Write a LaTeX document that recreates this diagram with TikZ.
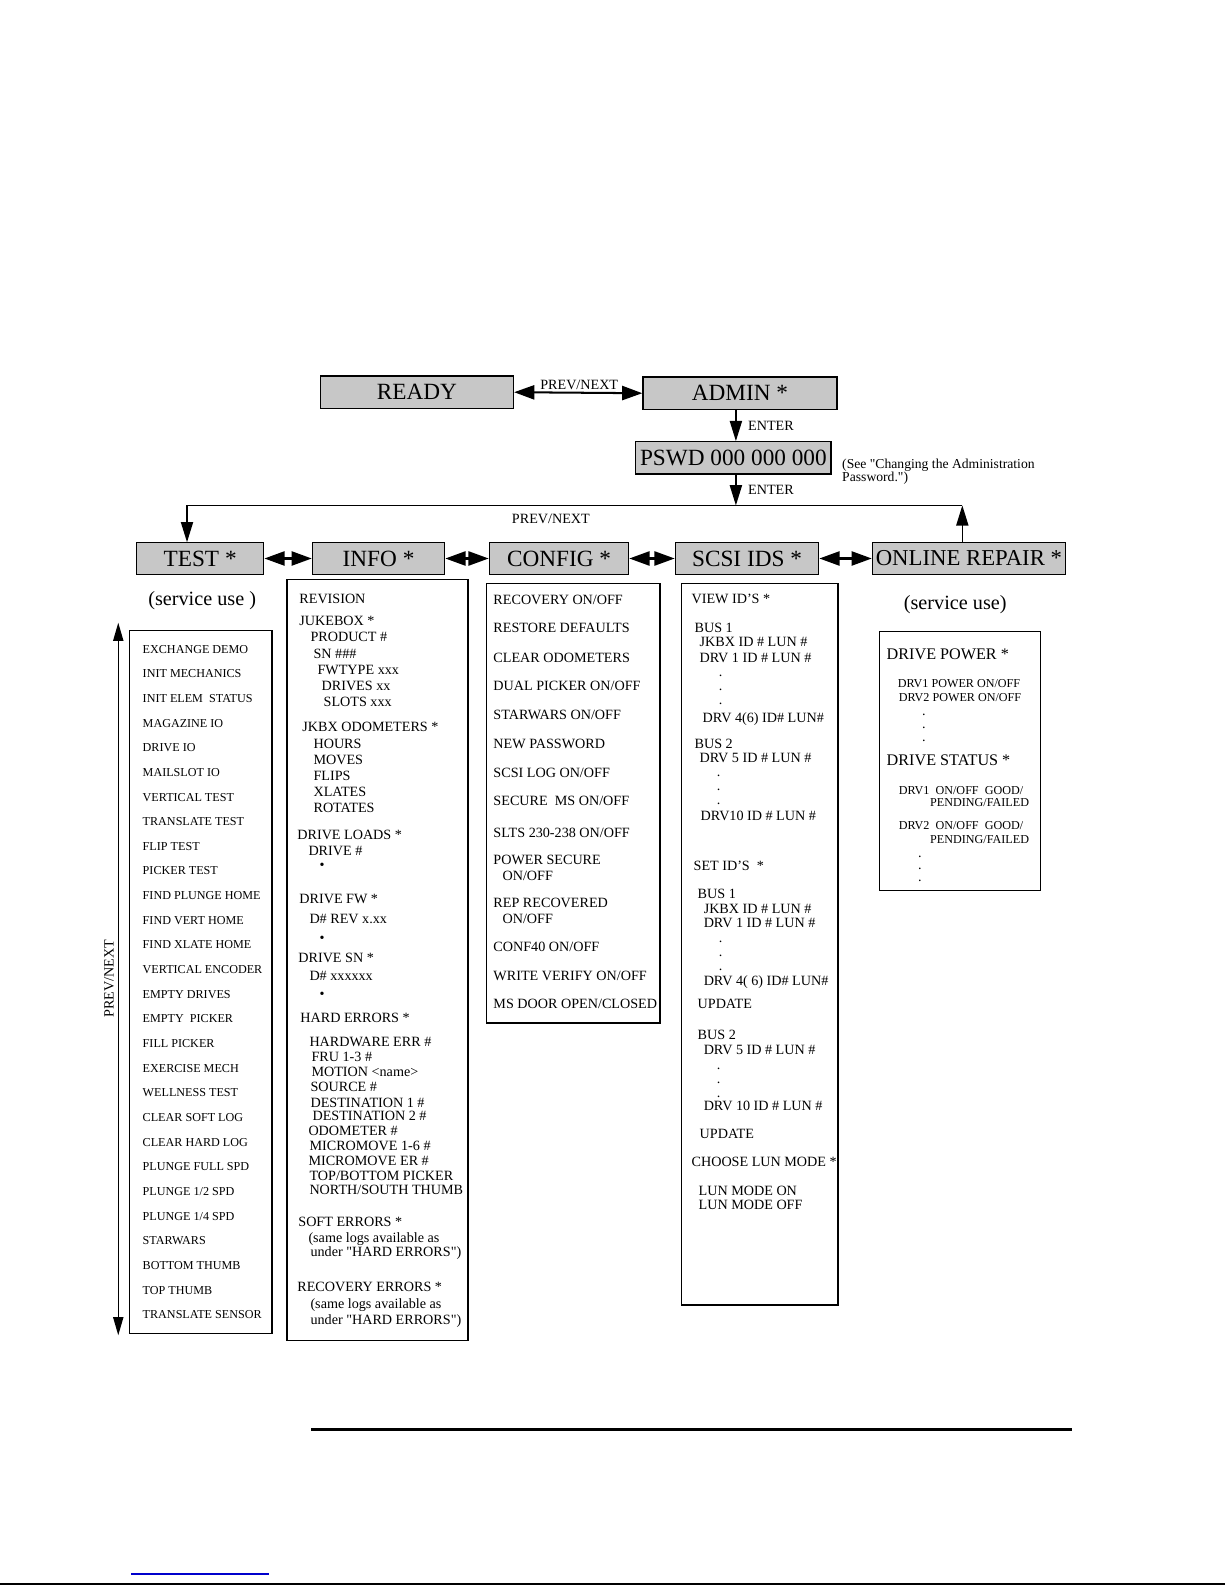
\documentclass[tikz,border=0pt]{standalone}
\usepackage{fontspec}
\setmainfont{Liberation Serif}[Ligatures=TeXOff]
\usetikzlibrary{arrows.meta}
\newcommand\fs[1]{\fontsize{#1}{#1}\selectfont}
\newcount\itmc
\newcommand\itm[4][]{\global\advance\itmc by 1\relax
  \node[tx,#1] (t\the\itmc) at (#2,#3) {#4};}
\begin{document}
\begin{tikzpicture}[x=1pt,y=-1pt,
  hdr/.style={draw, line width=1.2pt, fill=black!22, inner sep=0pt, font=\fs{23}},
  lbox/.style={draw, line width=1.3pt, inner sep=0pt},
  tx/.style={anchor=base west, inner sep=0pt, font=\fs{14}, yshift=-5pt},
  txs/.style={anchor=base west, inner sep=0pt, font=\fs{12}, yshift=-4pt},
  txb/.style={font=\fs{16}, yshift=-0.5pt},
  dotx/.style={yshift=3pt},
  lbl/.style={inner sep=0pt, font=\fs{14}},
  arr/.style={line width=1.5pt, -{Triangle[length=20pt,width=12pt]}},
  darr/.style={line width=2pt, {Triangle[length=20pt,width=14pt]}-{Triangle[length=20pt,width=14pt]}},
  vdarr/.style={line width=1.5pt, {Triangle[length=18pt,width=10pt]}-{Triangle[length=18pt,width=10pt]}},
  conn/.style={line width=1.3pt}]
\useasboundingbox (0,0) rectangle (1212,1568);

% header boxes
\node[hdr, minimum width=191pt, minimum height=32pt] (ready) at (412.5,388) {READY};
\node[hdr, minimum width=192pt, minimum height=32pt] (admin) at (732,389) {ADMIN *};
\node[hdr, minimum width=193pt, minimum height=32pt] (pswd) at (725.5,453) {PSWD 000 000 000};
\node[hdr, minimum width=126pt, minimum height=31pt] (test) at (198,552.5) {TEST *};
\node[hdr, minimum width=131pt, minimum height=31pt] (info) at (374.5,552.5) {INFO *};
\node[hdr, minimum width=138pt, minimum height=31pt] (config) at (553,552.5) {CONFIG *};
\node[hdr, minimum width=142pt, minimum height=31pt] (scsi) at (739,552.5) {SCSI IDS *};
\node[hdr, minimum width=191pt, minimum height=31pt, font=\fs{22.5}] (online) at (958.5,552.5) {ONLINE REPAIR *};

% top connectors
\draw[darr] (ready.east) -- (admin.west);
\node[lbl] (pn1) at (573,381) {PREV/NEXT};
\draw[arr] ([xshift=-4pt]admin.south) -- ([xshift=-4pt]admin.south |- pswd.north);
\node[lbl, anchor=west] (en1) at (740,421) {ENTER};
\coordinate (j) at (728,500);
\draw[arr] (pswd.south -| j) -- (j);
\node[lbl, anchor=west] (en2) at (740,485) {ENTER};
\node[lbl, anchor=west, font=\fs{13.5}] (note1) at (833,460) {(See "Changing the Administration};
\node[lbl, anchor=west, font=\fs{13.5}] (note2) at (833,473) {Password.")};
\coordinate (cl) at (185,500);
\coordinate (cr) at (952,500);
\draw[conn] (cr) -- (cl);
\draw[arr] (cl) -- (cl |- test.north);
\draw[arr] (online.north -| cr) -- (cr);
\node[lbl] (pn2) at (545,513) {PREV/NEXT};

% header double arrows
\draw[darr] (test.east) -- (info.west);
\draw[darr] (info.east) -- (config.west);
\draw[darr] (config.east) -- (scsi.west);
\draw[darr] (scsi.east) -- (online.west);

% service use
\node[inner sep=0pt, font=\fs{20}] (svc1) at (200,594) {(service use )};
\node[inner sep=0pt, font=\fs{20}] (svc2) at (945,598) {(service use)};

% list boxes
\node[lbox, minimum width=141pt, minimum height=695pt] (testbox) at (198.5,971.5) {};
\node[lbox, minimum width=179pt, minimum height=753pt] (infobox) at (373.5,949.5) {};
\node[lbox, minimum width=172pt, minimum height=435pt] (configbox) at (567,794.5) {};
\node[lbox, minimum width=155pt, minimum height=714pt] (scsibox) at (751.5,934) {};
\node[lbox, minimum width=159pt, minimum height=256pt] (onlinebox) at (949.5,753) {};

% TEST list
\foreach \t [count=\i from 0] in {{EXCHANGE DEMO},{INIT MECHANICS},{INIT ELEM\ \ STATUS},{MAGAZINE IO},{DRIVE IO},{MAILSLOT IO},{VERTICAL TEST},{TRANSLATE TEST},{FLIP TEST},{PICKER TEST},{FIND PLUNGE HOME},{FIND VERT HOME},{FIND XLATE HOME},{VERTICAL ENCODER},{EMPTY DRIVES},{EMPTY\ \ PICKER},{FILL PICKER},{EXERCISE MECH},{WELLNESS TEST},{CLEAR SOFT LOG},{CLEAR HARD LOG},{PLUNGE FULL SPD},{PLUNGE 1/2 SPD},{PLUNGE 1/4 SPD},{STARWARS},{BOTTOM THUMB},{TOP THUMB},{TRANSLATE SENSOR}}
  \node[txs] (test\i) at (141,{642+24.4*\i}) {\t};
\coordinate (vt) at (117,616);
\coordinate (vb) at (117,1321);
\draw[vdarr] (vt) -- (vb);
\node[lbl, rotate=90] (pn3) at (108,968) {PREV/NEXT};

% INFO list
\itm{296}{592}{REVISION}
\itm{296}{614}{JUKEBOX *}
\itm{307}{630}{PRODUCT \#}
\itm{310}{646}{SN \#\#\#}
\itm{314}{662}{FWTYPE xxx}
\itm{318}{678}{DRIVES xx}
\itm{320}{694}{SLOTS xxx}
\itm{299}{719}{JKBX ODOMETERS *}
\itm{310}{735}{HOURS}
\itm{310}{751}{MOVES}
\itm{310}{767}{FLIPS}
\itm{310}{783}{XLATES}
\itm{310}{799}{ROTATES}
\itm{294}{825}{DRIVE LOADS *}
\itm{305}{841}{DRIVE \#}
\itm[yshift=2pt]{316}{857}{•}
\itm{296}{889}{DRIVE FW *}
\itm{306}{909}{D\# REV x.xx}
\itm[yshift=2pt]{316}{929}{•}
\itm{295}{947}{DRIVE SN *}
\itm{306}{965}{D\# xxxxxx}
\itm[yshift=2pt]{316}{985}{•}
\itm{297}{1007}{HARD ERRORS *}
\itm{306}{1030}{HARDWARE ERR \#}
\itm{308}{1045}{FRU 1-3 \#}
\itm{308}{1060}{MOTION <name>}
\itm{307}{1075}{SOURCE \#}
\itm{307}{1091}{DESTINATION 1 \#}
\itm{309}{1103}{DESTINATION 2 \#}
\itm{305}{1118}{ODOMETER \#}
\itm{306}{1133}{MICROMOVE 1-6 \#}
\itm{305}{1148}{MICROMOVE ER \#}
\itm{306}{1163}{TOP/BOTTOM PICKER}
\itm{306}{1177}{NORTH/SOUTH THUMB}
\itm{295}{1208}{SOFT ERRORS *}
\itm{305}{1224}{(same logs available as}
\itm{307}{1238}{under "HARD ERRORS")}
\itm{294}{1273}{RECOVERY ERRORS *}
\itm{307}{1289}{(same logs available as}
\itm{307}{1305}{under "HARD ERRORS")}

% CONFIG list
\itm{488}{593}{RECOVERY ON/OFF}
\itm{488}{621}{RESTORE DEFAULTS}
\itm{488}{650}{CLEAR ODOMETERS}
\itm{488}{678}{DUAL PICKER ON/OFF}
\itm{488}{707}{STARWARS ON/OFF}
\itm{488}{735}{NEW PASSWORD}
\itm{488}{764}{SCSI LOG ON/OFF}
\itm{488}{792}{SECURE\ \ MS ON/OFF}
\itm{488}{824}{SLTS 230-238 ON/OFF}
\itm{488}{850}{POWER SECURE}
\itm{497}{866}{ON/OFF}
\itm{488}{893}{REP RECOVERED}
\itm{497}{909}{ON/OFF}
\itm{488}{936}{CONF40 ON/OFF}
\itm{488}{965}{WRITE VERIFY ON/OFF}
\itm{488}{993}{MS DOOR OPEN/CLOSED}

% SCSI list
\itm{684}{592}{VIEW ID’S *}
\itm{687}{621}{BUS 1}
\itm{692}{635}{JKBX ID \# LUN \#}
\itm{692}{650}{DRV 1 ID \# LUN \#}
\itm[dotx]{711}{667}{.}
\itm[dotx]{711}{681}{.}
\itm[dotx]{711}{695}{.}
\itm{695}{710}{DRV 4(6) ID\# LUN\#}
\itm{687}{735}{BUS 2}
\itm{692}{749}{DRV 5 ID \# LUN \#}
\itm[dotx]{709}{766}{.}
\itm[dotx]{709}{780}{.}
\itm[dotx]{709}{794}{.}
\itm{693}{807}{DRV10 ID \# LUN \#}
\itm{686}{856}{SET ID’S\ \ *}
\itm{690}{884}{BUS 1}
\itm{696}{899}{JKBX ID \# LUN \#}
\itm{696}{913}{DRV 1 ID \# LUN \#}
\itm[dotx]{711}{930}{.}
\itm[dotx]{711}{944}{.}
\itm[dotx]{711}{958}{.}
\itm{696}{970}{DRV 4( 6) ID\# LUN\#}
\itm{690}{993}{UPDATE}
\itm{690}{1023}{BUS 2}
\itm{696}{1038}{DRV 5 ID \# LUN \#}
\itm[dotx]{709}{1056}{.}
\itm[dotx]{709}{1070}{.}
\itm[dotx]{709}{1084}{.}
\itm{696}{1094}{DRV 10 ID \# LUN \#}
\itm{692}{1121}{UPDATE}
\itm{684}{1149}{CHOOSE LUN MODE *}
\itm{691}{1178}{LUN MODE ON}
\itm{691}{1192}{LUN MODE OFF}

% ONLINE REPAIR list
\itm[txb]{877}{647}{DRIVE POWER *}
\itm[font=\fs{12}, yshift=1pt]{888}{676}{DRV1 POWER ON/OFF}
\itm[font=\fs{12}, yshift=1pt]{889}{690}{DRV2 POWER ON/OFF}
\itm[dotx]{912}{706}{.}
\itm[dotx]{912}{719}{.}
\itm[dotx]{912}{732}{.}
\itm[txb]{877}{752}{DRIVE STATUS *}
\itm[font=\fs{12}, yshift=1pt]{889}{782}{DRV1\ \ ON/OFF\ \ GOOD/}
\itm[font=\fs{12}, yshift=1pt]{920}{794}{PENDING/FAILED}
\itm[font=\fs{12}, yshift=1pt]{889}{817}{DRV2\ \ ON/OFF\ \ GOOD/}
\itm[font=\fs{12}, yshift=1pt]{920}{830}{PENDING/FAILED}
\itm[dotx]{908}{846}{.}
\itm[dotx]{908}{858}{.}
\itm[dotx]{908}{870}{.}

% bottom rules
\coordinate (r1) at (308,1414);
\coordinate (r2) at (1060,1414);
\draw[line width=2.5pt] (r1) -- (r2);
\coordinate (b1) at (130,1557);
\coordinate (b2) at (266,1557);
\draw[line width=1.5pt, blue!80!black] (b1) -- (b2);
\coordinate (e1) at (0,1567);
\coordinate (e2) at (1212,1567);
\draw[line width=1.5pt] (e1) -- (e2);
\end{tikzpicture}
\end{document}
